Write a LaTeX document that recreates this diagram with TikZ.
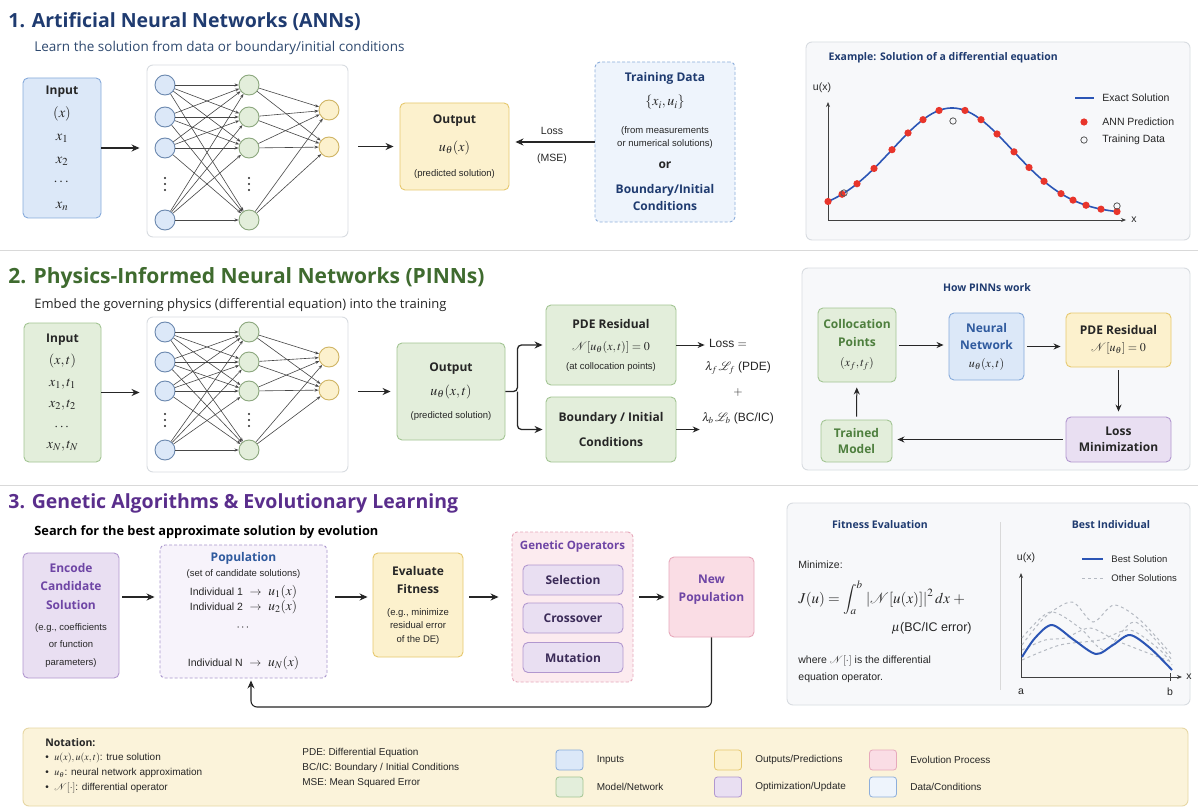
\documentclass[tikz,border=0pt]{standalone}
\usepackage{amsmath, amssymb}
\usepackage{mathptmx}
\usepackage{fontspec}
\setmainfont{Open Sans}
\newfontfamily\arialf{Liberation Sans}
\usepackage{tikz}
\usetikzlibrary{arrows.meta}
\usetikzlibrary{positioning}
\usetikzlibrary{calc}
%%%%%%%%%% colours
\definecolor{navy}{HTML}{1F3B70}
\definecolor{slate}{HTML}{2F4A70}
\definecolor{leafgreen}{HTML}{3F6B2F}
\definecolor{leafmid}{HTML}{4E7F3E}
\definecolor{bluemid}{HTML}{2F5A9E}
\definecolor{grape}{HTML}{5A2E8C}
\definecolor{grapemid}{HTML}{6E45A5}
\definecolor{plum}{HTML}{3B2B58}
\definecolor{ink}{HTML}{262626}
\definecolor{inputfill}{HTML}{DCE8F8}
\definecolor{inputdraw}{HTML}{86AADB}
\definecolor{modelfill}{HTML}{E3EEDB}
\definecolor{modeldraw}{HTML}{A3C593}
\definecolor{outfill}{HTML}{FCF1CD}
\definecolor{outdraw}{HTML}{E6C86E}
\definecolor{optfill}{HTML}{E9DFF2}
\definecolor{optdraw}{HTML}{B197CF}
\definecolor{evofill}{HTML}{FADDE5}
\definecolor{evodraw}{HTML}{E7A9BB}
\definecolor{datafill}{HTML}{EEF4FC}
\definecolor{datadraw}{HTML}{8DAEDB}
\definecolor{popfill}{HTML}{F7F3FB}
\definecolor{popdraw}{HTML}{A996CC}
\definecolor{panelfill}{HTML}{F7F8FA}
\definecolor{paneldraw}{HTML}{D8DCE1}
\definecolor{notefill}{HTML}{FBF3DA}
\definecolor{notedraw}{HTML}{E7D7A4}
\definecolor{curveblue}{HTML}{2B55B5}
\definecolor{curvegray}{HTML}{B5BAC2}
\definecolor{dotred}{HTML}{E8352B}
%%%%%%%%%% text helpers
\newcommand{\boxhead}[2][ink]{{\fontsize{12}{14}\selectfont\bfseries\color{#1}#2}}
\newcommand{\boxnote}[1]{{\arialf\fontsize{9.5}{11}\selectfont #1}}
\newcommand{\bigmath}[1]{{\fontsize{14}{14}\selectfont $#1$}}
\newcommand{\indiv}[2]{{\arialf\fontsize{10.5}{12}\selectfont Individual #1}\;\;$\rightarrow$\;\;{\fontsize{13.5}{14}\selectfont $#2$}}
\tikzset{
every picture/.style={line width=0.8pt, >={Stealth[length=8pt,width=7pt]}},
%%%%%%%%%%  Node styles
box/.style={draw, rounded corners=5pt, align=center, inner sep=2pt, text=ink,
            font=\fontsize{12}{14}\selectfont, line width=0.9pt},
inputbox/.style={box, fill=inputfill, draw=inputdraw},
modelbox/.style={box, fill=modelfill, draw=modeldraw},
outbox/.style={box, fill=outfill, draw=outdraw},
optbox/.style={box, fill=optfill, draw=optdraw},
evobox/.style={box, fill=evofill, draw=evodraw},
databox/.style={box, fill=datafill, draw=datadraw, densely dashed},
netbox/.style={draw=paneldraw, fill=white, rounded corners=6pt, line width=0.9pt},
panel/.style={draw=paneldraw, fill=panelfill, rounded corners=6pt, line width=0.9pt},
neuron/.style={circle, minimum size=20pt, inner sep=0pt, line width=0.9pt},
in neuron/.style={neuron, fill=inputfill, draw=inputdraw!80!black},
hid neuron/.style={neuron, fill=modelfill, draw=modeldraw!85!black},
out neuron/.style={neuron, fill=outfill, draw=outdraw!90!black},
swatch/.style={draw, minimum width=27, minimum height=20, inner sep=0pt, rounded corners=3pt},
%%%%%%%%%%  Text styles
sectitle/.style={anchor=west, inner sep=0pt, font=\fontsize{19.5}{24}\selectfont\bfseries},
subtitle/.style={anchor=west, inner sep=0pt, font=\fontsize{13}{15}\selectfont},
paneltitle/.style={font=\fontsize{10.5}{12}\selectfont\bfseries, text=navy},
plotlabel/.style={font=\arialf\fontsize{10.5}{12}\selectfont, text=ink, inner sep=1pt},
notelabel/.style={anchor=west, font=\arialf\fontsize{10}{12}\selectfont, text=ink, inner sep=1pt},
%%%% different line styles:
flow/.style={->, line width=1.3pt, draw=ink, shorten <=3pt, shorten >=5pt},
thin flow/.style={flow, line width=1pt, >={Stealth[length=7pt,width=6pt]}},
synapse/.style={-{Stealth[length=4pt,width=3pt]}, line width=0.6pt, draw=black!72},
axis/.style={->, >={Stealth[length=5pt,width=4pt]}, line width=0.8pt, draw=black!75},
separator/.style={draw=black!15, line width=1pt},
}

\begin{document}
\begin{tikzpicture}[x=1pt, y=-1pt]
\useasboundingbox[fill=white] (0,0) rectangle (1198,810);

% section rules
\draw[separator] (0,250) -- (1198,250);
\draw[separator] (0,485) -- (1198,485);

%%%%%%%%%% 1. ANNs
\node[sectitle, text=navy] (t1) at (8,22) {1. Artificial Neural Networks (ANNs)};
\node[subtitle, text=slate, font=\fontsize{13.5}{15}\selectfont] (s1) at (34,48) {Learn the solution from data or boundary/initial conditions};
\node[inputbox, minimum width=78, minimum height=140, font=\fontsize{14.5}{14}\selectfont] (in1) at (62,148)
  {\boxhead{Input}\\[9pt]$(x)$\\[9pt]$x_1$\\[9pt]$x_2$\\[8pt]$\cdots$\\[9pt]$x_n$};
\node[netbox, minimum width=201, minimum height=172] (net1) at (247.5,151) {};
\node[outbox, minimum width=109, minimum height=87] (out1) at (454.5,146.5)
  {\boxhead{Output}\\[14pt]\bigmath{u_\theta(x)}\\[11pt]\boxnote{(predicted solution)}};
\node[databox, minimum width=140, minimum height=160] (train) at (665,142)
  {\boxhead[navy]{Training Data}\\[10pt]\bigmath{\{x_i,u_i\}}\\[14pt]\boxnote{(from measurements}\\[-1pt]%
   \boxnote{or numerical solutions)}\\[8pt]\boxhead{or}\\[11pt]\boxhead[navy]{Boundary/Initial}\\[3pt]\boxhead[navy]{Conditions}};
\draw[flow, shorten <=0pt, shorten >=7pt] (in1.east) -- (in1.east -| net1.west);
\draw[flow, shorten <=10pt, shorten >=6pt] (net1.east |- out1.west) -- (out1.west);
\draw[flow, shorten <=0pt, shorten >=6pt] (train.west) -- (train.west -| out1.east)
  node[midway, above=6pt, plotlabel] (lossl) {Loss}
  node[midway, below=10pt, plotlabel] (msel) {(MSE)};

% example plot
\draw[panel] (806,42) rectangle (1190,240);
\node[paneltitle, anchor=west] (ex) at (825,58) {Example: Solution of a differential equation};
\coordinate (o1) at (828,220);
\coordinate (y1) at (828,102);
\coordinate (x1) at (1126,220);
\draw[axis] (o1) -- (y1);
\draw[axis] (o1) -- (x1);
\node[plotlabel] (ux1) at (822,88) {u(x)};
\node[plotlabel] (xl1) at (1134,220) {x};
\draw[curveblue, line width=1.6pt] plot[domain=828:1119, samples=60, smooth]
  (\x,{214-106*exp(-0.5*((\x-952)/60)^2)});
\foreach \x in {828,842,857,874,892,908,923,939,965,981,997,1014,1029,1044,1061,1073,1086,1101,1117}
  \fill[dotred] (\x,{214-106*exp(-0.5*((\x-952)/60)^2)}) circle (3.6pt);
\foreach \x/\y in {844/193, 953/121, 1117/206}
  \draw[black!65] (\x,\y) circle (3.2pt);
\draw[curveblue, line width=1.6pt] (1075,98) -- (1094,98);
\node[plotlabel, anchor=west] (leg1) at (1101,98) {Exact Solution};
\fill[dotred] (1084,122) circle (3.6pt);
\node[plotlabel, anchor=west] (leg2) at (1101,122) {ANN Prediction};
\draw[black!65] (1084,140) circle (3.2pt);
\node[plotlabel, anchor=west] (leg3) at (1101,140) {Training Data};

%%%%%%%%%% 2. PINNs
\node[sectitle, text=leafgreen, font=\fontsize{21}{24}\selectfont\bfseries] (t2) at (8,278) {2. Physics-Informed Neural Networks (PINNs)};
\node[subtitle, text=ink] (s2) at (34,305) {Embed the governing physics (differential equation) into the training};
\node[modelbox, minimum width=77, minimum height=139, font=\fontsize{14}{14}\selectfont] (in2) at (62.5,392.5)
  {\boxhead{Input}\\[8pt]$(x,t)$\\[8pt]$x_1,t_1$\\[7pt]$x_2,t_2$\\[9pt]$\cdots$\\[4pt]$x_N,t_N$};
\node[netbox, minimum width=201, minimum height=155] (net2) at (247.5,394.5) {};
\node[modelbox, minimum width=108, minimum height=97] (out2) at (451,391.5)
  {\boxhead{Output}\\[10pt]\bigmath{u_\theta(x,t)}\\[9pt]\boxnote{(predicted solution)}};
\draw[flow, shorten <=0pt, shorten >=7pt] (in2.east) -- (in2.east -| net2.west);
\draw[flow, shorten <=10pt, shorten >=6pt] (net2.east |- out2.west) -- (out2.west);

% the two networks
\foreach \s/\ya/\yb/\yc/\yd/\ydot/\yo/\yp in {1/85/117/148/220/184/110/147, 2/332/362/391/450/420/357/390}{
  \foreach \i/\y in {1/\ya, 2/\yb, 3/\yc, 4/\yd}{
    \node[in neuron] (a\s\i) at (165,\y) {};
    \node[hid neuron] (h\s\i) at (249,\y) {};
  }
  \node[out neuron] (o\s1) at (329,\yo) {};
  \node[out neuron] (o\s2) at (329,\yp) {};
  \foreach \d in {-6,0,6}{
    \fill[ink] (165,\ydot+\d) circle (1.2pt);
    \fill[ink] (249,\ydot+\d) circle (1.2pt);
  }
  \foreach \i in {1,...,4}
    \foreach \j in {1,...,4}
      \draw[synapse] (a\s\i) -- (h\s\j);
  \foreach \j in {1,...,4}
    \foreach \k in {1,2}
      \draw[synapse] (h\s\j) -- (o\s\k);
}

\node[modelbox, minimum width=130, minimum height=80] (pde) at (611,345)
  {\boxhead{PDE Residual}\\[8pt]$\mathcal{N}[u_\theta(x,t)]=0$\\[5pt]\boxnote{(at collocation points)}};
\node[modelbox, minimum width=130, minimum height=65] (bc) at (611,429.5)
  {\boxhead{Boundary / Initial}\\[11pt]\boxhead{Conditions}};
\coordinate (fork) at ($(out2.east)+(12,0)$);
\draw[flow, rounded corners=4pt, shorten <=0pt, shorten >=3pt] (out2.east) -- (fork) |- (pde.west);
\draw[flow, rounded corners=4pt, shorten <=0pt, shorten >=3pt] (fork) |- (bc.west);
\node[plotlabel, font=\arialf\fontsize{12}{14}\selectfont] (losseq) at (728,343) {Loss $=$};
\node[plotlabel, font=\arialf\fontsize{12}{14}\selectfont] (lossf) at (738,368) {$\lambda_f\,\mathcal{L}_f$ (PDE)};
\node[plotlabel, font=\arialf\fontsize{12}{14}\selectfont] (lplus) at (738,393) {$+$};
\node[plotlabel, font=\arialf\fontsize{12}{14}\selectfont] (lossb) at (738,418) {$\lambda_b\,\mathcal{L}_b$ (BC/IC)};
\draw[thin flow, shorten <=0pt, shorten >=3pt] (pde.east) -- (pde.east -| losseq.west);
\draw[thin flow, shorten <=0pt, shorten >=1pt] (bc.east) -- (bc.east -| lossb.west);

% how PINNs work
\draw[panel] (802,268) rectangle (1190,470);
\node[paneltitle] (how) at (987,288) {How PINNs work};
\node[modelbox, minimum width=78, minimum height=74] (colloc) at (857,345)
  {\boxhead[leafmid]{Collocation}\\[4pt]\boxhead[leafmid]{Points}\\[6pt]$(x_f,t_f)$};
\node[inputbox, minimum width=75, minimum height=67] (nnet) at (986.5,346.5)
  {\boxhead[bluemid]{Neural}\\[3pt]\boxhead[bluemid]{Network}\\[4pt]$u_\theta(x,t)$};
\node[outbox, minimum width=105, minimum height=54] (pder) at (1118.5,340)
  {\boxhead{PDE Residual}\\[3pt]$\mathcal{N}[u_\theta]=0$};
\node[optbox, minimum width=105, minimum height=45] (lossmin) at (1118.5,439.5)
  {\boxhead{Loss}\\[2pt]\boxhead{Minimization}};
\node[modelbox, minimum width=71, minimum height=42] (trained) at (856.5,441)
  {\boxhead[leafmid]{Trained}\\[2pt]\boxhead[leafmid]{Model}};
\draw[thin flow] (colloc.east) -- (colloc.east -| nnet.west);
\draw[thin flow] (nnet.east) -- (nnet.east -| pder.west);
\draw[thin flow] (pder) -- (lossmin);
\draw[thin flow] (lossmin.west) -- (lossmin.west -| trained.east);
\draw[thin flow] (trained) -- (colloc);

%%%%%%%%%% 3. Genetic algorithms
\node[sectitle, text=grape] (t3) at (8,503) {3. Genetic Algorithms \& Evolutionary Learning};
\node[subtitle, text=black, font=\fontsize{12.8}{15}\selectfont\bfseries] (s3) at (34,532) {Search for the best approximate solution by evolution};
\node[optbox, minimum width=96, minimum height=125] (encode) at (71,615.5)
  {\boxhead[grapemid]{Encode}\\[4pt]\boxhead[grapemid]{Candidate}\\[5pt]\boxhead[grapemid]{Solution}\\[7pt]%
   \boxnote{(e.g., coefficients}\\[3pt]\boxnote{or function}\\[4pt]\boxnote{parameters)}};
\node[box, fill=popfill, draw=popdraw, densely dashed, minimum width=167, minimum height=133] (pop) at (243.5,611.5)
  {\boxhead[bluemid]{Population}\\[1pt]\boxnote{(set of candidate solutions)}\\[5pt]\indiv{1}{u_1(x)}\\[1pt]%
   \indiv{2}{u_2(x)}\\[6pt]$\cdots$\\[22pt]\indiv{N}{u_N(x)}};
\node[outbox, minimum width=90, minimum height=104] (eval) at (418,605)
  {\boxhead{Evaluate}\\[4pt]\boxhead{Fitness}\\[8pt]\boxnote{(e.g., minimize}\\[-1pt]\boxnote{residual error}\\[0pt]\boxnote{of the DE)}};
\node[box, fill=evofill!60, draw=evodraw, densely dashed, minimum width=121, minimum height=150] (genop) at (572.5,607) {};
\node[font=\fontsize{11.5}{12}\selectfont\bfseries, text=grapemid] (genophd) at (572.5,547) {Genetic Operators};
\node[optbox, minimum width=100, minimum height=30] (sel) at (573,580) {\boxhead[plum]{Selection}};
\node[optbox, minimum width=100, minimum height=30] (cross) at (573,618) {\boxhead[plum]{Crossover}};
\node[optbox, minimum width=100, minimum height=30] (mut) at (573,657.5) {\boxhead[plum]{Mutation}};
\node[evobox, minimum width=85, minimum height=80] (newpop) at (711.5,597) {};
\node[align=center, font=\fontsize{12}{14}\selectfont] (newpoptxt) at (711.5,590)
  {\boxhead[grapemid]{New}\\[4pt]\boxhead[grapemid]{Population}};
\draw[flow] (encode.east |- newpop.west) -- (pop.west |- newpop.west);
\draw[flow, shorten <=8pt] (pop.east |- newpop.west) -- (eval.west |- newpop.west);
\draw[flow, shorten <=6pt, shorten >=13pt] (eval.east |- newpop.west) -- (genop.west |- newpop.west);
\draw[flow, shorten <=6pt, shorten >=4pt] (genop.east |- newpop.west) -- (newpop.west);
\coordinate (back) at (251,707);
\draw[flow, line width=1.1pt, rounded corners=6pt, shorten <=0pt, shorten >=2pt]
  (newpop.south) |- (back) -- (pop.south -| back);

% fitness panel
\draw[panel] (787,503) rectangle (1190,705);
\draw[separator] (1000,522) -- (1000,690);
\node[paneltitle] (fit) at (880,525) {Fitness Evaluation};
\node[plotlabel, anchor=west] (minz) at (797,565) {Minimize:};
\node[anchor=west, inner sep=1pt, text=ink, font=\fontsize{15}{16}\selectfont] (jeq) at (797,598)
  {$J(u)=\displaystyle\int_a^b \,|\mathcal{N}[u(x)]|^2\,dx\;+$};
\node[plotlabel, anchor=east, font=\arialf\fontsize{12.5}{14}\selectfont] (mu) at (973,628) {$\mu$(BC/IC error)};
\node[plotlabel, anchor=west, align=left] (where) at (797,669)
  {where $\mathcal{N}[\cdot]$ is the differential\\[5pt]equation operator.};
\node[paneltitle] (best) at (1111,525) {Best Individual};
\coordinate (o3) at (1021,677);
\coordinate (y3) at (1021,573);
\coordinate (x3) at (1182,677);
\draw[axis] (o3) -- (y3);
\draw[axis] (o3) -- (x3);
\draw[black!75] (1170,673) -- (1170,681);
\node[plotlabel] (ux3) at (1026,558) {u(x)};
\node[plotlabel] (xl3) at (1189,677) {x};
\node[plotlabel] (al) at (1021,692) {a};
\node[plotlabel] (bl) at (1170,692) {b};
\foreach \pts in {
  {(1022,645) (1045,617) (1072,602) (1093,622) (1114,605) (1140,620) (1172,655)},
  {(1022,638) (1050,612) (1080,628) (1105,650) (1135,622) (1172,660)},
  {(1022,650) (1045,640) (1065,638) (1090,628) (1115,640) (1140,650) (1172,662)},
  {(1022,660) (1060,645) (1100,640) (1130,630) (1160,650) (1172,665)}}
  \draw[curvegray, dashed, line width=1pt] plot[smooth] coordinates \pts;
\draw[curveblue, line width=2pt] plot[smooth] coordinates
  {(1022,657) (1035,638) (1052,625) (1074,640) (1096,654) (1113,645) (1130,635) (1150,648) (1172,670)};
\draw[curveblue, line width=2pt] (1082,559) -- (1103,559);
\node[plotlabel, anchor=west, font=\arialf\fontsize{9.5}{11}\selectfont] (bsl) at (1110,559) {Best Solution};
\draw[curvegray, dashed, line width=1pt] (1082,578) -- (1103,578);
\node[plotlabel, anchor=west, font=\arialf\fontsize{9.5}{11}\selectfont] (osl) at (1110,578) {Other Solutions};

%%%%%%%%%% notation bar
\draw[draw=notedraw, fill=notefill, rounded corners=6pt, line width=0.9pt] (23,728) rectangle (1188,806);
\node[notelabel, font=\fontsize{10.5}{12}\selectfont\bfseries] (nt) at (44,743) {Notation:};
\node[notelabel] (nt1) at (44,758) {\textbullet\ \ $u(x), u(x,t)$: true solution};
\node[notelabel] (nt2) at (44,773) {\textbullet\ \ $u_\theta$: neural network approximation};
\node[notelabel] (nt3) at (44,788) {\textbullet\ \ $\mathcal{N}[\cdot]$: differential operator};
\node[notelabel] (ab1) at (301,753) {PDE: Differential Equation};
\node[notelabel] (ab2) at (301,768) {BC/IC: Boundary / Initial Conditions};
\node[notelabel] (ab3) at (301,783) {MSE: Mean Squared Error};
\node[swatch, fill=inputfill, draw=inputdraw] (sw1) at (569.5,760) {};
\node[notelabel, right=12pt of sw1] (swl1) {Inputs};
\node[swatch, fill=modelfill, draw=modeldraw] (sw2) at (569.5,787) {};
\node[notelabel, right=12pt of sw2] (swl2) {Model/Network};
\node[swatch, fill=outfill, draw=outdraw] (sw3) at (728,760) {};
\node[notelabel, right=12pt of sw3] (swl3) {Outputs/Predictions};
\node[swatch, fill=optfill, draw=optdraw] (sw4) at (728,787) {};
\node[notelabel, right=12pt of sw4] (swl4) {Optimization/Update};
\node[swatch, fill=evofill, draw=evodraw] (sw5) at (883,760) {};
\node[notelabel, right=12pt of sw5] (swl5) {Evolution Process};
\node[swatch, fill=datafill, draw=datadraw] (sw6) at (883,787) {};
\node[notelabel, right=12pt of sw6] (swl6) {Data/Conditions};
\end{tikzpicture}
\end{document}
